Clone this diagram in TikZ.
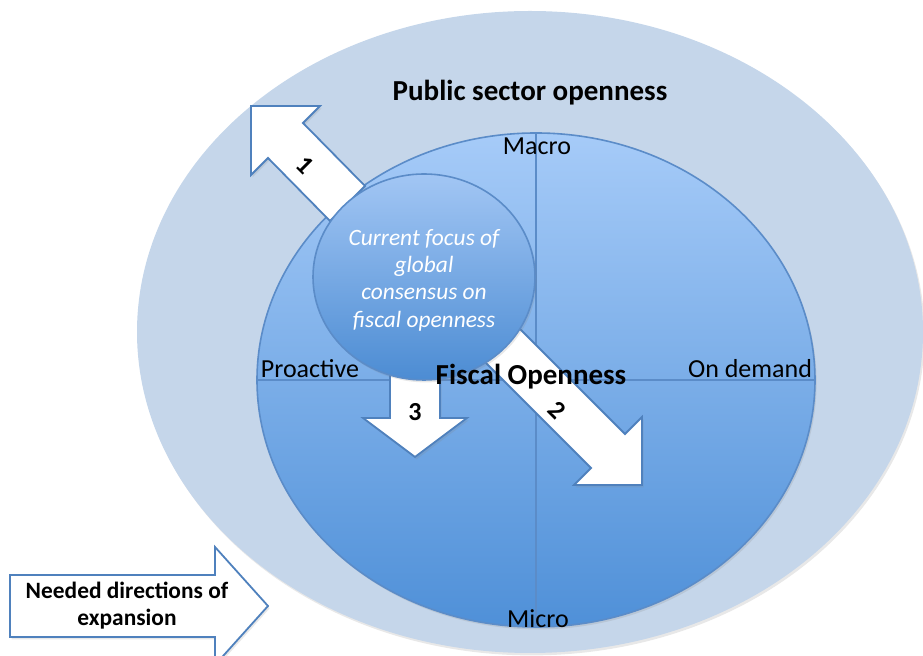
\documentclass[tikz,border=0pt]{standalone}
\usepackage{fontspec}
\setmainfont{Carlito}
\usetikzlibrary{shadows}

\definecolor{sectorfill}{HTML}{C5D6EA}
\definecolor{fiscaltop}{HTML}{A6CBF8}
\definecolor{fiscalbot}{HTML}{4F90D8}
\definecolor{focustop}{HTML}{A2C6F4}
\definecolor{focusbot}{HTML}{4C8CD3}
\definecolor{rimblue}{HTML}{5B8CC8}
\definecolor{arrowrim}{HTML}{4F81BD}

\begin{document}
\begin{tikzpicture}[x=0.5pt, y=-0.5pt]
    \tikzstyle{soft} = [drop shadow={opacity=0.18, shadow xshift=0.8pt, shadow yshift=-1.2pt}]
    \tikzstyle{bigarrow} = [draw=arrowrim, fill=white, line width=0.9pt, line join=miter, soft]
    \tikzstyle{rim} = [draw=rimblue, line width=0.8pt]
    \tikzstyle{lbl} = [font=\fontsize{13}{15}\selectfont]
    \tikzstyle{num} = [font=\fontsize{13}{15}\selectfont\bfseries]
    \tikzstyle{head} = [font=\fontsize{14.5}{17}\selectfont\bfseries]

    \useasboundingbox (0,0) rectangle (923,656);

    % public sector field and the fiscal disc
    \fill[sectorfill, soft] (530,332) ellipse [x radius=393, y radius=321];
    \path[rim, top color=fiscaltop, bottom color=fiscalbot, soft]
        (536,380) ellipse [x radius=279, y radius=247];
    \draw[rim] (257,380) -- (815,380);
    \draw[rim] (536,133) -- (536,627);

    \node(sector) [head] at (530,93) {Public sector openness};
    \node(macro) [lbl] at (537,146) {Macro};
    \node(micro) [lbl] at (538,619) {Micro};
    \node(proactive) [lbl] at (310,369) {Proactive};
    \node(ondemand) [lbl] at (750,369) {On demand};

    % expansion arrows
    \draw[bigarrow] (251,106) -- (320,106) -- (303,123) -- (365,186)
        -- (330,221) -- (268,158) -- (251,175) -- cycle;
    \draw[bigarrow] (642,485) -- (574,485) -- (591,468) -- (485,362)
        -- (519,328) -- (625,434) -- (642,417) -- cycle;
    \draw[bigarrow] (415,457) -- (363,418) -- (390,418) -- (390,370)
        -- (440,370) -- (440,418) -- (467,418) -- cycle;
    \draw[bigarrow] (268,606) -- (215,665) -- (215,637) -- (10,637)
        -- (10,575) -- (215,575) -- (215,547) -- cycle;

    % current focus
    \path[rim, top color=focustop, bottom color=focusbot, soft]
        (424,277) ellipse [x radius=111, y radius=103];
    \node(focus) [align=center, text=white, font=\fontsize{11.7}{13.7}\selectfont\itshape]
        at (424,280) {Current focus of\\global\\consensus on\\fiscal openness};

    \node(fiscal) [head] at (531,377) {Fiscal Openness};
    \node(one) [num, rotate=-45] at (305,165) {1};
    \node(two) [num, rotate=-45] at (557,410) {2};
    \node(three) [num] at (415,412) {3};
    \node(needed) [align=center, font=\fontsize{11.7}{13.5}\selectfont\bfseries]
        at (127,606) {Needed directions of\\expansion};
\end{tikzpicture}
\end{document}
